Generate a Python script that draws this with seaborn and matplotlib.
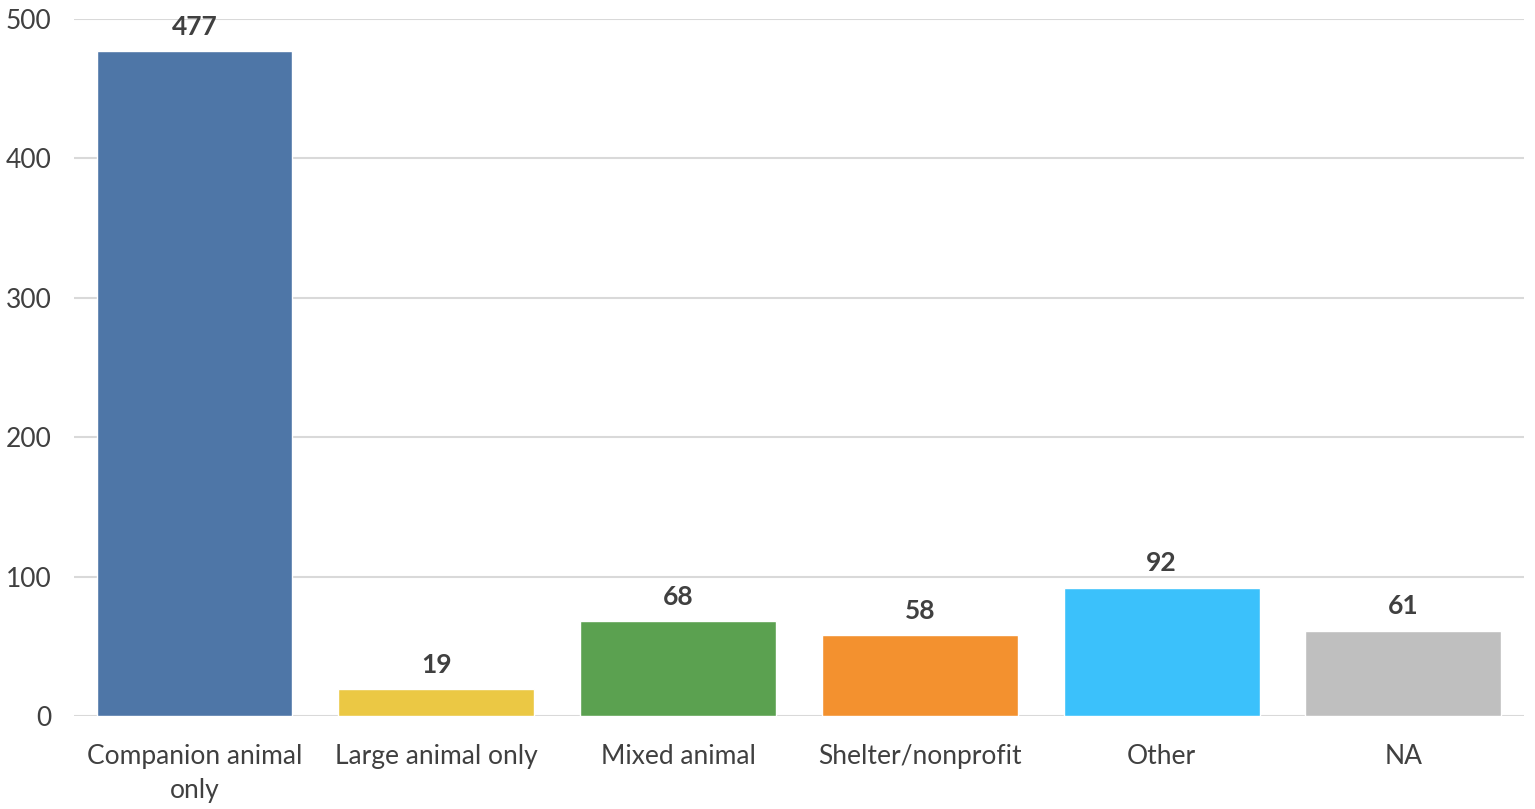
import matplotlib
matplotlib.use('Agg')
import matplotlib.pyplot as plt
import pandas as pd
import seaborn as sb

# data
practice_types = ['Companion animal\nonly', 'Large animal only', 'Mixed animal',
                  'Shelter/nonprofit', 'Other', 'NA']
counts = [477, 19, 68, 58, 92, 61]
bar_colors = ['#4E76A7', '#EBC844', '#5BA150', '#F3912F', '#3BC1FB', '#BFBFBF']

df = pd.DataFrame({'type': practice_types, 'count': counts})

sb.set_style('white')
plt.rcParams['font.family'] = ['Lato', 'DejaVu Sans']

fig = plt.figure(figsize=(15.35, 8.09), dpi=100)
ax = fig.add_axes([0.048, 0.115, 0.945, 0.8615])

sb.barplot(data=df, x='type', y='count', hue='type', palette=bar_colors,
           legend=False, width=0.81, saturation=1, ax=ax, zorder=3)

for i, v in enumerate(counts):
    ax.text(i, v + 9, str(v), ha='center', va='bottom', fontsize=19,
            fontweight='bold', color='#404040')

ax.set_ylim(0, 500)
ax.set_yticks(range(0, 501, 100))
ax.grid(axis='y', color='#D9D9D9', linewidth=1.5, zorder=0)
for s in ax.spines.values():
    s.set_visible(False)
ax.set_xlabel('')
ax.set_ylabel('')
ax.tick_params(axis='both', length=0, labelsize=19, labelcolor='#404040')
ax.tick_params(axis='x', pad=20)
ax.tick_params(axis='y', pad=16)
for lbl in ax.get_xticklabels():
    lbl.set_linespacing(1.45)

fig.savefig('out.png', dpi=100)
